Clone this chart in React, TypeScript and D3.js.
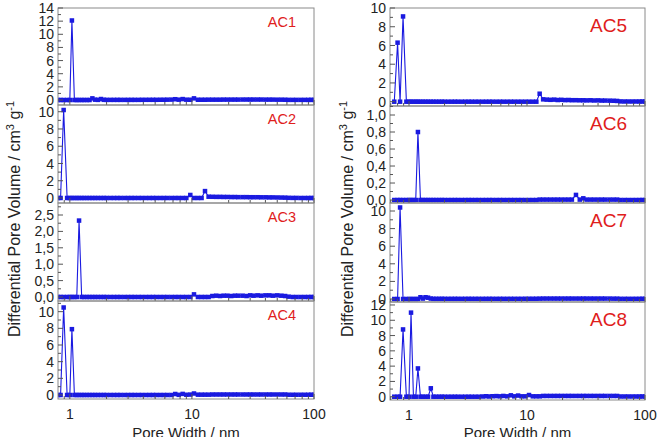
import React from "react";
import * as d3 from "d3";

// Shared pore-width grid (nm)
const poreWidths = [
  0.75, 0.8, 0.84, 0.89, 0.95, 1.0, 1.04, 1.09, 1.14, 1.19,
  1.25, 1.31, 1.38, 1.45, 1.53, 1.61, 1.7, 1.8, 1.9, 2.0,
  2.15, 2.3, 2.45, 2.6, 2.8, 3.0, 3.2, 3.4, 3.65, 3.9,
  4.2, 4.5, 4.8, 5.1, 5.5, 5.9, 6.3, 6.8, 7.3, 7.8,
  8.4, 9.0, 9.7, 10.4, 11.2, 12.0, 12.8, 13.7, 14.7, 15.8,
  17, 18.2, 19.5, 21, 22.5, 24, 26, 28, 30, 32,
  34.5, 37, 40, 43, 46, 50, 54, 58, 62, 67,
  72, 78, 84, 90, 95, 100,
];

const ac1 = [
  0, 0, 0, 0, 0, 0, 12.1, 0, 0, 0,
  0, 0, 0, 0, 0.25, 0.05, 0.02, 0.15, 0.03, 0.02,
  0.02, 0.02, 0.02, 0.02, 0.02, 0.02, 0.02, 0.02, 0.02, 0.03,
  0.03, 0.03, 0.03, 0.03, 0.04, 0.04, 0.05, 0.06, 0.12, 0.05,
  0.14, 0.05, 0.04, 0.25, 0.04, 0.04, 0.04, 0.05, 0.05, 0.05,
  0.05, 0.06, 0.06, 0.06, 0.06, 0.06, 0.07, 0.07, 0.07, 0.07,
  0.07, 0.07, 0.06, 0.06, 0.06, 0.05, 0.05, 0.04, 0.02, 0.02,
  0.02, 0.02, 0.02, 0.02, 0.02, 0.02,
];
const ac2 = [
  0, 0, 0, 10.2, 0, 0, 0, 0, 0, 0,
  0, 0, 0, 0, 0, 0, 0, 0, 0, 0,
  0, 0, 0, 0, 0, 0, 0, 0, 0, 0,
  0, 0, 0, 0, 0, 0, 0, 0, 0, 0,
  0, 0, 0.35, 0, 0, 0, 0.8, 0.15, 0.14, 0.13,
  0.13, 0.12, 0.12, 0.11, 0.11, 0.1, 0.1, 0.1, 0.09, 0.09,
  0.09, 0.08, 0.08, 0.07, 0.07, 0.06, 0.05, 0.04, 0.02, 0.01,
  0.01, 0, 0, 0, 0, 0,
];
const ac3 = [
  0, 0, 0, 0, 0, 0, 0, 0, 0, 2.33,
  0, 0, 0, 0, 0, 0, 0, 0, 0, 0,
  0, 0, 0, 0, 0, 0, 0, 0, 0, 0,
  0, 0, 0, 0, 0, 0, 0, 0, 0, 0,
  0, 0, 0, 0.08, 0, 0, 0, 0, 0.03, 0.04,
  0.03, 0.04, 0.04, 0.03, 0.04, 0.04, 0.04, 0.03, 0.05, 0.04,
  0.05, 0.04, 0.05, 0.05, 0.04, 0.05, 0.04, 0.03, 0.01, 0,
  0, 0, 0, 0, 0, 0,
];
const ac4 = [
  0, 0, 0, 10.5, 0, 0, 7.9, 0, 0, 0,
  0, 0, 0, 0, 0, 0, 0, 0, 0, 0,
  0, 0, 0, 0, 0, 0, 0, 0, 0, 0,
  0, 0, 0, 0, 0, 0, 0, 0, 0.12, 0.02,
  0.13, 0.03, 0.05, 0.18, 0.04, 0.04, 0.04, 0.04, 0.06, 0.06,
  0.06, 0.06, 0.06, 0.06, 0.06, 0.06, 0.06, 0.06, 0.06, 0.06,
  0.06, 0.06, 0.06, 0.06, 0.06, 0.06, 0.06, 0.06, 0.03, 0.03,
  0.03, 0.03, 0.03, 0.03, 0.03, 0.03,
];
const ac5 = [
  0, 6.3, 0, 9.1, 0, 0, 0, 0, 0, 0,
  0, 0, 0, 0, 0, 0, 0, 0, 0, 0,
  0, 0, 0, 0, 0, 0, 0, 0, 0, 0,
  0, 0, 0, 0, 0, 0, 0, 0, 0, 0,
  0, 0, 0, 0, 0, 0, 0.85, 0.25, 0.22, 0.2,
  0.22, 0.18, 0.2, 0.17, 0.18, 0.16, 0.16, 0.15, 0.15, 0.14,
  0.15, 0.13, 0.14, 0.12, 0.12, 0.11, 0.1, 0.08, 0.03, 0.02,
  0.02, 0.02, 0.02, 0.02, 0.02, 0.02,
];
const ac6 = [
  0, 0, 0, 0, 0, 0, 0, 0, 0, 0.8,
  0, 0, 0, 0, 0, 0, 0, 0, 0, 0,
  0, 0, 0, 0, 0, 0, 0, 0, 0, 0,
  0, 0, 0, 0, 0, 0, 0, 0, 0, 0,
  0, 0, 0, 0, 0, 0, 0.005, 0.005, 0.005, 0.005,
  0.005, 0.005, 0.005, 0.005, 0.005, 0.005, 0.06, 0.005, 0.02, 0.005,
  0.005, 0.005, 0.005, 0.005, 0.005, 0.005, 0.005, 0.005, 0, 0,
  0, 0, 0, 0, 0, 0,
];
const ac7 = [
  0, 0, 10.4, 0, 0, 0, 0, 0, 0, 0,
  0.2, 0.05, 0.2, 0.15, 0.05, 0.02, 0.02, 0.02, 0.02, 0.02,
  0.02, 0.02, 0.02, 0.02, 0.02, 0.02, 0.02, 0.02, 0.02, 0.02,
  0.02, 0.02, 0.02, 0.02, 0.02, 0.02, 0.02, 0.02, 0.02, 0.02,
  0.02, 0.02, 0.03, 0.03, 0.03, 0.03, 0.04, 0.05, 0.05, 0.05,
  0.05, 0.05, 0.05, 0.05, 0.05, 0.05, 0.05, 0.05, 0.05, 0.05,
  0.05, 0.05, 0.05, 0.05, 0.05, 0.05, 0.04, 0.04, 0.02, 0.02,
  0.02, 0.02, 0.02, 0.02, 0.02, 0.02,
];
const ac8 = [
  0, 0, 0, 8.8, 0, 0, 11.0, 0, 0, 3.7,
  0, 0, 0, 0, 1.1, 0, 0, 0, 0, 0,
  0, 0, 0, 0, 0, 0, 0, 0, 0, 0,
  0.03, 0.06, 0.03, 0.06, 0.08, 0.05, 0.1, 0.05, 0.18, 0.05,
  0.15, 0.05, 0.05, 0.22, 0.05, 0.05, 0.05, 0.1, 0.1, 0.1,
  0.1, 0.1, 0.1, 0.1, 0.1, 0.1, 0.1, 0.1, 0.1, 0.1,
  0.1, 0.1, 0.1, 0.1, 0.1, 0.1, 0.1, 0.1, 0.03, 0.03,
  0.03, 0.03, 0.03, 0.03, 0.03, 0.03,
];

const sampleNames = ["AC1", "AC2", "AC3", "AC4", "AC5", "AC6", "AC7", "AC8"];
const sampleValues = [ac1, ac2, ac3, ac4, ac5, ac6, ac7, ac8];

const yTicksAC1 = [0, 2, 4, 6, 8, 10, 12, 14];
const yTicksAC2 = [0, 2, 4, 6, 8, 10];
const yTicksAC3 = [0, 0.5, 1.0, 1.5, 2.0, 2.5];
const yTicksAC4 = [0, 2, 4, 6, 8, 10];
const yTicksAC5 = [0, 2, 4, 6, 8, 10];
const yTicksAC6 = [0, 0.2, 0.4, 0.6, 0.8, 1.0];
const yTicksAC7 = [0, 2, 4, 6, 8, 10];
const yTicksAC8 = [0, 2, 4, 6, 8, 10, 12];
const yTickSets = [yTicksAC1, yTicksAC2, yTicksAC3, yTicksAC4, yTicksAC5, yTicksAC6, yTicksAC7, yTicksAC8];
const yDecimals = [0, 0, 1, 0, 0, 1, 0, 0];

const yDomains: [number, number][] = [
  [-0.76, 14], [-0.58, 10.78], [-0.122, 2.866], [-0.48, 11.28],
  [-0.46, 10], [-0.035, 1.106], [-0.34, 10.91], [-0.43, 12.39],
];

const xMajorTicks = [1, 10, 100];
const xMinorTicks = [0.7, 0.8, 0.9, 2, 3, 4, 5, 6, 7, 8, 9, 20, 30, 40, 50, 60, 70, 80, 90];

const BLUE = "#1a1ae0";
const FONT = "'Liberation Sans', Arial, sans-serif";

const columns = [
  { x0: 58, x1: 314, xMin: 0.8, rows: [8, 105, 203, 301, 399], labelSize: 14.5, labelDy: 19, titleX: 20 },
  { x0: 390, x1: 645, xMin: 0.69, rows: [8, 106, 203, 302, 400], labelSize: 19, labelDy: 24, titleX: 353 },
];

function Panel({ idx, col, row }: { idx: number; col: number; row: number }) {
  const c = columns[col];
  const top = c.rows[row];
  const bottom = c.rows[row + 1];
  const x = d3.scaleLog().domain([c.xMin, 100]).range([c.x0, c.x1]);
  const y = d3.scaleLinear().domain(yDomains[idx]).range([bottom, top]);
  const vals = sampleValues[idx];
  const pts = poreWidths.map((w, i) => [w, vals[i]] as [number, number]);
  const line = d3.line<[number, number]>().x((d) => x(d[0])).y((d) => y(d[1]));
  const ticks = yTickSets[idx];
  const step = ticks[1] - ticks[0];
  const minor = ticks.slice(0, -1).map((t) => t + step / 2);
  if (y(ticks[ticks.length - 1] + step / 2) > top) minor.push(ticks[ticks.length - 1] + step / 2);
  const fmt = (v: number) => (yDecimals[idx] ? v.toFixed(1).replace(".", ",") : String(v));
  const clipId = `clip${idx}`;
  const ms = 4.5;
  return (
    <g>
      <defs>
        <clipPath id={clipId}>
          <rect x={c.x0} y={top} width={c.x1 - c.x0} height={bottom - top} />
        </clipPath>
      </defs>
      <g clipPath={`url(#${clipId})`}>
        <path d={line(pts) || ""} fill="none" stroke={BLUE} strokeWidth={1.1} />
        {pts.map((p, i) => (
          <rect key={i} x={x(p[0]) - ms / 2} y={y(p[1]) - ms / 2} width={ms} height={ms} fill={BLUE} />
        ))}
      </g>
      <rect x={c.x0} y={top} width={c.x1 - c.x0} height={bottom - top} fill="none" stroke="#8a8a8a" strokeWidth={1} />
      {ticks.map((t) => (
        <g key={t}>
          <line x1={c.x0} x2={c.x0 + 5} y1={y(t)} y2={y(t)} stroke="#555" strokeWidth={1} />
          <text x={c.x0 - 4} y={y(t)} dy="0.36em" textAnchor="end" fontSize={14} fontFamily={FONT} fill="#222">
            {fmt(t)}
          </text>
        </g>
      ))}
      {minor.map((t) => (
        <line key={t} x1={c.x0} x2={c.x0 + 3} y1={y(t)} y2={y(t)} stroke="#555" strokeWidth={1} />
      ))}
      {xMajorTicks.map((t) => (
        <line key={t} x1={x(t)} x2={x(t)} y1={bottom} y2={bottom - 5} stroke="#555" strokeWidth={1} />
      ))}
      {xMinorTicks.filter((t) => t > c.xMin).map((t) => (
        <line key={t} x1={x(t)} x2={x(t)} y1={bottom} y2={bottom - 3} stroke="#555" strokeWidth={1} />
      ))}
      {row === 3 &&
        xMajorTicks.map((t) => (
          <text key={t} x={x(t)} y={bottom + 20} textAnchor="middle" fontSize={14} fontFamily={FONT} fill="#222">
            {t}
          </text>
        ))}
      <text x={c.x1 - 18} y={top + c.labelDy} textAnchor="end" fontSize={c.labelSize} fontFamily={FONT} fill="#e0201c">
        {sampleNames[idx]}
      </text>
    </g>
  );
}

export default function App() {
  return (
    <svg width={660} height={437} style={{ position: "absolute", left: 0, top: 0, background: "#fff" }}>
      <rect width={660} height={437} fill="#fff" />
      {sampleNames.map((_, i) => (
        <Panel key={i} idx={i} col={i < 4 ? 0 : 1} row={i % 4} />
      ))}
      {columns.map((c, ci) => (
        <g key={ci}>
          <text
            transform={`translate(${c.titleX},219) rotate(-90)`}
            textAnchor="middle"
            fontSize={16}
            fontFamily={FONT}
            fill="#222"
          >
            Differential Pore Volume / cm
            <tspan dy={-6} fontSize={11}>3</tspan>
            <tspan dy={6}> g</tspan>
            <tspan dy={-6} fontSize={11}>-1</tspan>
          </text>
          <text x={(c.x0 + c.x1) / 2} y={438} textAnchor="middle" fontSize={15} fontFamily={FONT} fill="#222">
            Pore Width / nm
          </text>
        </g>
      ))}
    </svg>
  );
}
